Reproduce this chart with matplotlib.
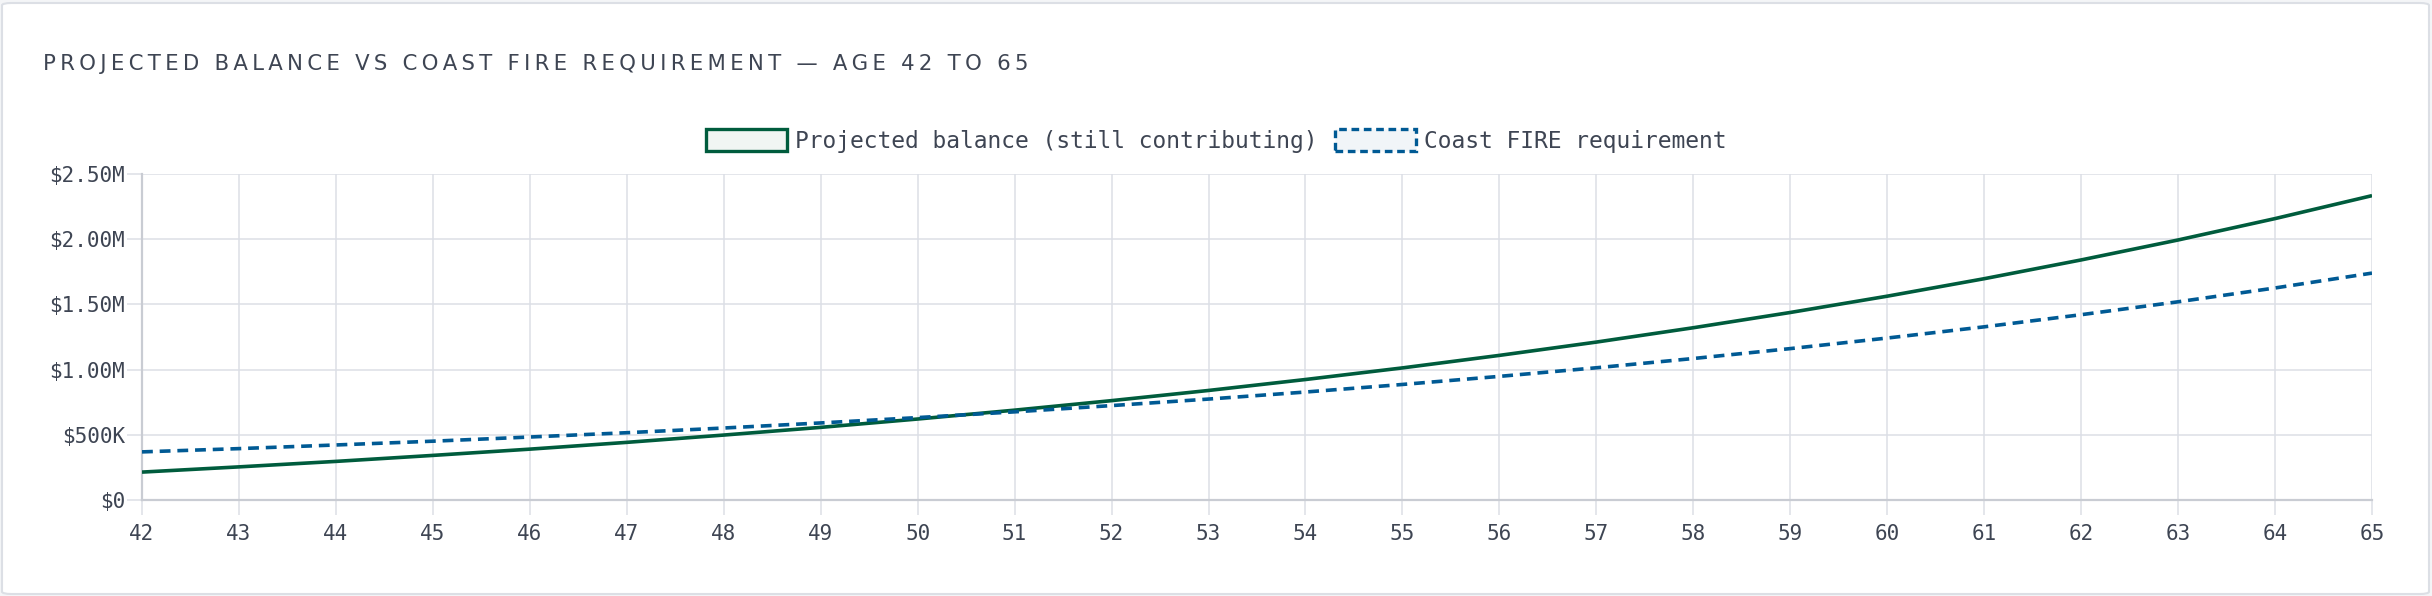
import matplotlib
matplotlib.use("Agg")
import matplotlib.pyplot as plt
from matplotlib.patches import Patch, FancyBboxPatch

# ages and balances (in $K)
ages = list(range(42, 66))
projected = [214, 254, 296, 342, 390, 442, 498, 557, 621, 689, 762, 840,
             924, 1013, 1109, 1211, 1321, 1438, 1563, 1697, 1841, 1994, 2158, 2334]
coast_req = [369, 394, 422, 451, 483, 516, 552, 591, 632, 676, 724, 774,
             828, 886, 948, 1014, 1085, 1161, 1242, 1328, 1421, 1520, 1626, 1740]

y_ticks = [0, 500, 1000, 1500, 2000, 2500]
y_labels = ["$0", "$500K", "$1.00M", "$1.50M", "$2.00M", "$2.50M"]

title = "PROJECTED BALANCE VS COAST FIRE REQUIREMENT \u2014 AGE 42 TO 65"
series_names = ["Projected balance (still contributing)", "Coast FIRE requirement"]

GREEN = "#005c3d"
BLUE = "#005a94"
GRID = "#dcdfe6"
AXIS = "#c9ccd3"
TEXT = "#3e4553"
MONO = "DejaVu Sans Mono"

fig = plt.figure(figsize=(24.32, 5.96), dpi=100)
fig.patch.set_facecolor("#f4f5f7")

# card background
card = FancyBboxPatch((2 / 2432, 2 / 596), 2427 / 2432, 591 / 596,
                      boxstyle="round,pad=0,rounding_size=0.004",
                      transform=fig.transFigure, facecolor="white",
                      edgecolor="#dcdfe5", linewidth=1.5, zorder=-5)
fig.patches.append(card)

ax = fig.add_axes([142 / 2432, 1 - 500 / 596, (2372 - 142) / 2432, (500 - 174) / 596])
ax.set_facecolor("none")
ax.set_zorder(2)

ax.plot(ages, projected, color=GREEN, lw=2.6, solid_capstyle="butt", zorder=3)
ax.plot(ages, coast_req, color=BLUE, lw=2.6, linestyle=(0, (3.0, 1.9)), zorder=3)

ax.set_xlim(42, 65)
ax.set_ylim(0, 2500)
ax.set_xticks(ages)
ax.set_xticklabels([str(a) for a in ages])
ax.set_yticks(y_ticks)
ax.set_yticklabels(y_labels)

ax.grid(True, color=GRID, lw=1.1)
ax.set_axisbelow(True)
for side in ["top", "right"]:
    ax.spines[side].set_visible(False)
for side in ["left", "bottom"]:
    ax.spines[side].set_color(AXIS)
    ax.spines[side].set_linewidth(1.6)

ax.tick_params(axis="both", length=11, width=1.1, color=GRID, labelcolor=TEXT,
               labelsize=15)
ax.tick_params(axis="y", pad=1)
ax.tick_params(axis="x", pad=6)
for lbl in ax.get_xticklabels() + ax.get_yticklabels():
    lbl.set_family(MONO)

# legend
handles = [Patch(facecolor="#f1f5f3", edgecolor=GREEN, linewidth=2.4),
           Patch(facecolor="#f1f5f8", edgecolor=BLUE, linewidth=2.4, linestyle=(0, (2.3, 1.4)))]
fig.legend(handles, series_names, loc="center", bbox_to_anchor=(0.5, 1 - 141 / 596),
           ncol=2, frameon=False, handlelength=3.55, handleheight=1.1,
           handletextpad=0.35, columnspacing=0.75,
           prop={"family": MONO, "size": 16.5}, labelcolor=TEXT)

# spaced-out title
fig.text(43 / 2432, 1 - 64 / 596, "\u2009".join(title), fontsize=15.3, color=TEXT,
         family="DejaVu Sans", va="center", ha="left")

fig.savefig("out.png", dpi=100, facecolor=fig.get_facecolor())
